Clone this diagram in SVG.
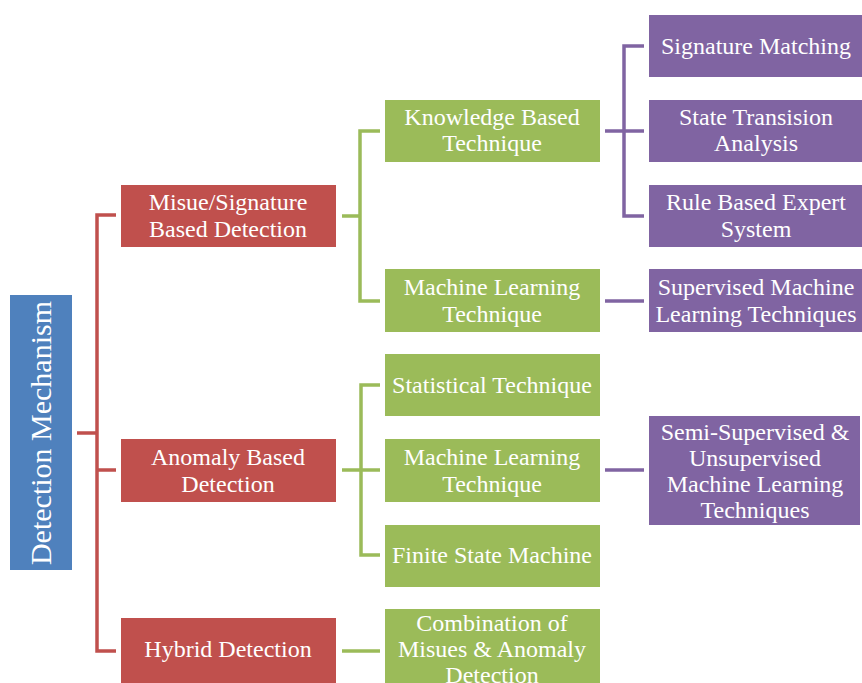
<svg xmlns="http://www.w3.org/2000/svg" width="862" height="683" viewBox="0 0 862 683">
<style>
.t{font-family:"Liberation Serif","Times New Roman",serif;font-size:24px;fill:#ffffff;text-anchor:middle}
.red{fill:#C0504D}
.grn{fill:#9BBB59}
.pur{fill:#8064A2}
.blu{fill:#4F81BD}
.lr{fill:none;stroke:#C0504D;stroke-width:3.5}
.lg{fill:none;stroke:#9BBB59;stroke-width:3.5}
.lp{fill:none;stroke:#8064A2;stroke-width:3.5}
</style>
<rect width="862" height="683" fill="#ffffff"/>
<g id="connectors">
<path class="lr" d="M77 433H97M116 215H97V651H116M97 470H116"/>
<path class="lg" d="M342 216H360M380 131H360V301H380"/>
<path class="lg" d="M342 470H380M380 385H361V555H380"/>
<path class="lg" d="M342 651H380"/>
<path class="lp" d="M605 131H644M644 46H624V216H644"/>
<path class="lp" d="M605 301H644"/>
<path class="lp" d="M605 470H644"/>
</g>
<g id="root">
<rect class="blu" x="10" y="295" width="62" height="275"/>
<text class="t" style="font-size:30px" transform="translate(51 433) rotate(-90)">Detection Mechanism</text>
</g>
<g id="misuse">
<rect class="red" x="121" y="185" width="215" height="62"/>
<text class="t" x="228" y="210">Misue/Signature</text>
<text class="t" x="228" y="237">Based Detection</text>
</g>
<g id="anomaly">
<rect class="red" x="121" y="439" width="215" height="63"/>
<text class="t" x="228" y="465">Anomaly Based</text>
<text class="t" x="228" y="492">Detection</text>
</g>
<g id="hybrid">
<rect class="red" x="121" y="618" width="215" height="66"/>
<text class="t" x="228" y="657">Hybrid Detection</text>
</g>
<g id="knowledge">
<rect class="grn" x="385" y="100" width="215" height="62"/>
<text class="t" x="492" y="125">Knowledge Based</text>
<text class="t" x="492" y="151">Technique</text>
</g>
<g id="ml1">
<rect class="grn" x="385" y="269" width="215" height="63"/>
<text class="t" x="492" y="295">Machine Learning</text>
<text class="t" x="492" y="322">Technique</text>
</g>
<g id="statistical">
<rect class="grn" x="385" y="354" width="215" height="62"/>
<text class="t" x="492" y="393">Statistical Technique</text>
</g>
<g id="ml2">
<rect class="grn" x="385" y="439" width="215" height="63"/>
<text class="t" x="492" y="465">Machine Learning</text>
<text class="t" x="492" y="492">Technique</text>
</g>
<g id="finite">
<rect class="grn" x="385" y="525" width="215" height="62"/>
<text class="t" x="492" y="563">Finite State Machine</text>
</g>
<g id="combination">
<rect class="grn" x="385" y="609" width="215" height="75"/>
<text class="t" x="492" y="631">Combination of</text>
<text class="t" x="492" y="657">Misues &amp; Anomaly</text>
<text class="t" x="492" y="683">Detection</text>
</g>
<g id="signature">
<rect class="pur" x="649" y="15" width="213" height="62"/>
<text class="t" x="756" y="54">Signature Matching</text>
</g>
<g id="state">
<rect class="pur" x="649" y="100" width="213" height="62"/>
<text class="t" x="756" y="125">State Transision</text>
<text class="t" x="756" y="151">Analysis</text>
</g>
<g id="rule">
<rect class="pur" x="649" y="185" width="213" height="62"/>
<text class="t" x="756" y="210">Rule Based Expert</text>
<text class="t" x="756" y="237">System</text>
</g>
<g id="supervised">
<rect class="pur" x="649" y="269" width="213" height="63"/>
<text class="t" x="756" y="295">Supervised Machine</text>
<text class="t" x="756" y="322">Learning Techniques</text>
</g>
<g id="semi">
<rect class="pur" x="649" y="416" width="211" height="109"/>
<text class="t" x="755" y="440">Semi-Supervised &amp;</text>
<text class="t" x="755" y="466">Unsupervised</text>
<text class="t" x="755" y="492">Machine Learning</text>
<text class="t" x="755" y="518">Techniques</text>
</g>
</svg>
